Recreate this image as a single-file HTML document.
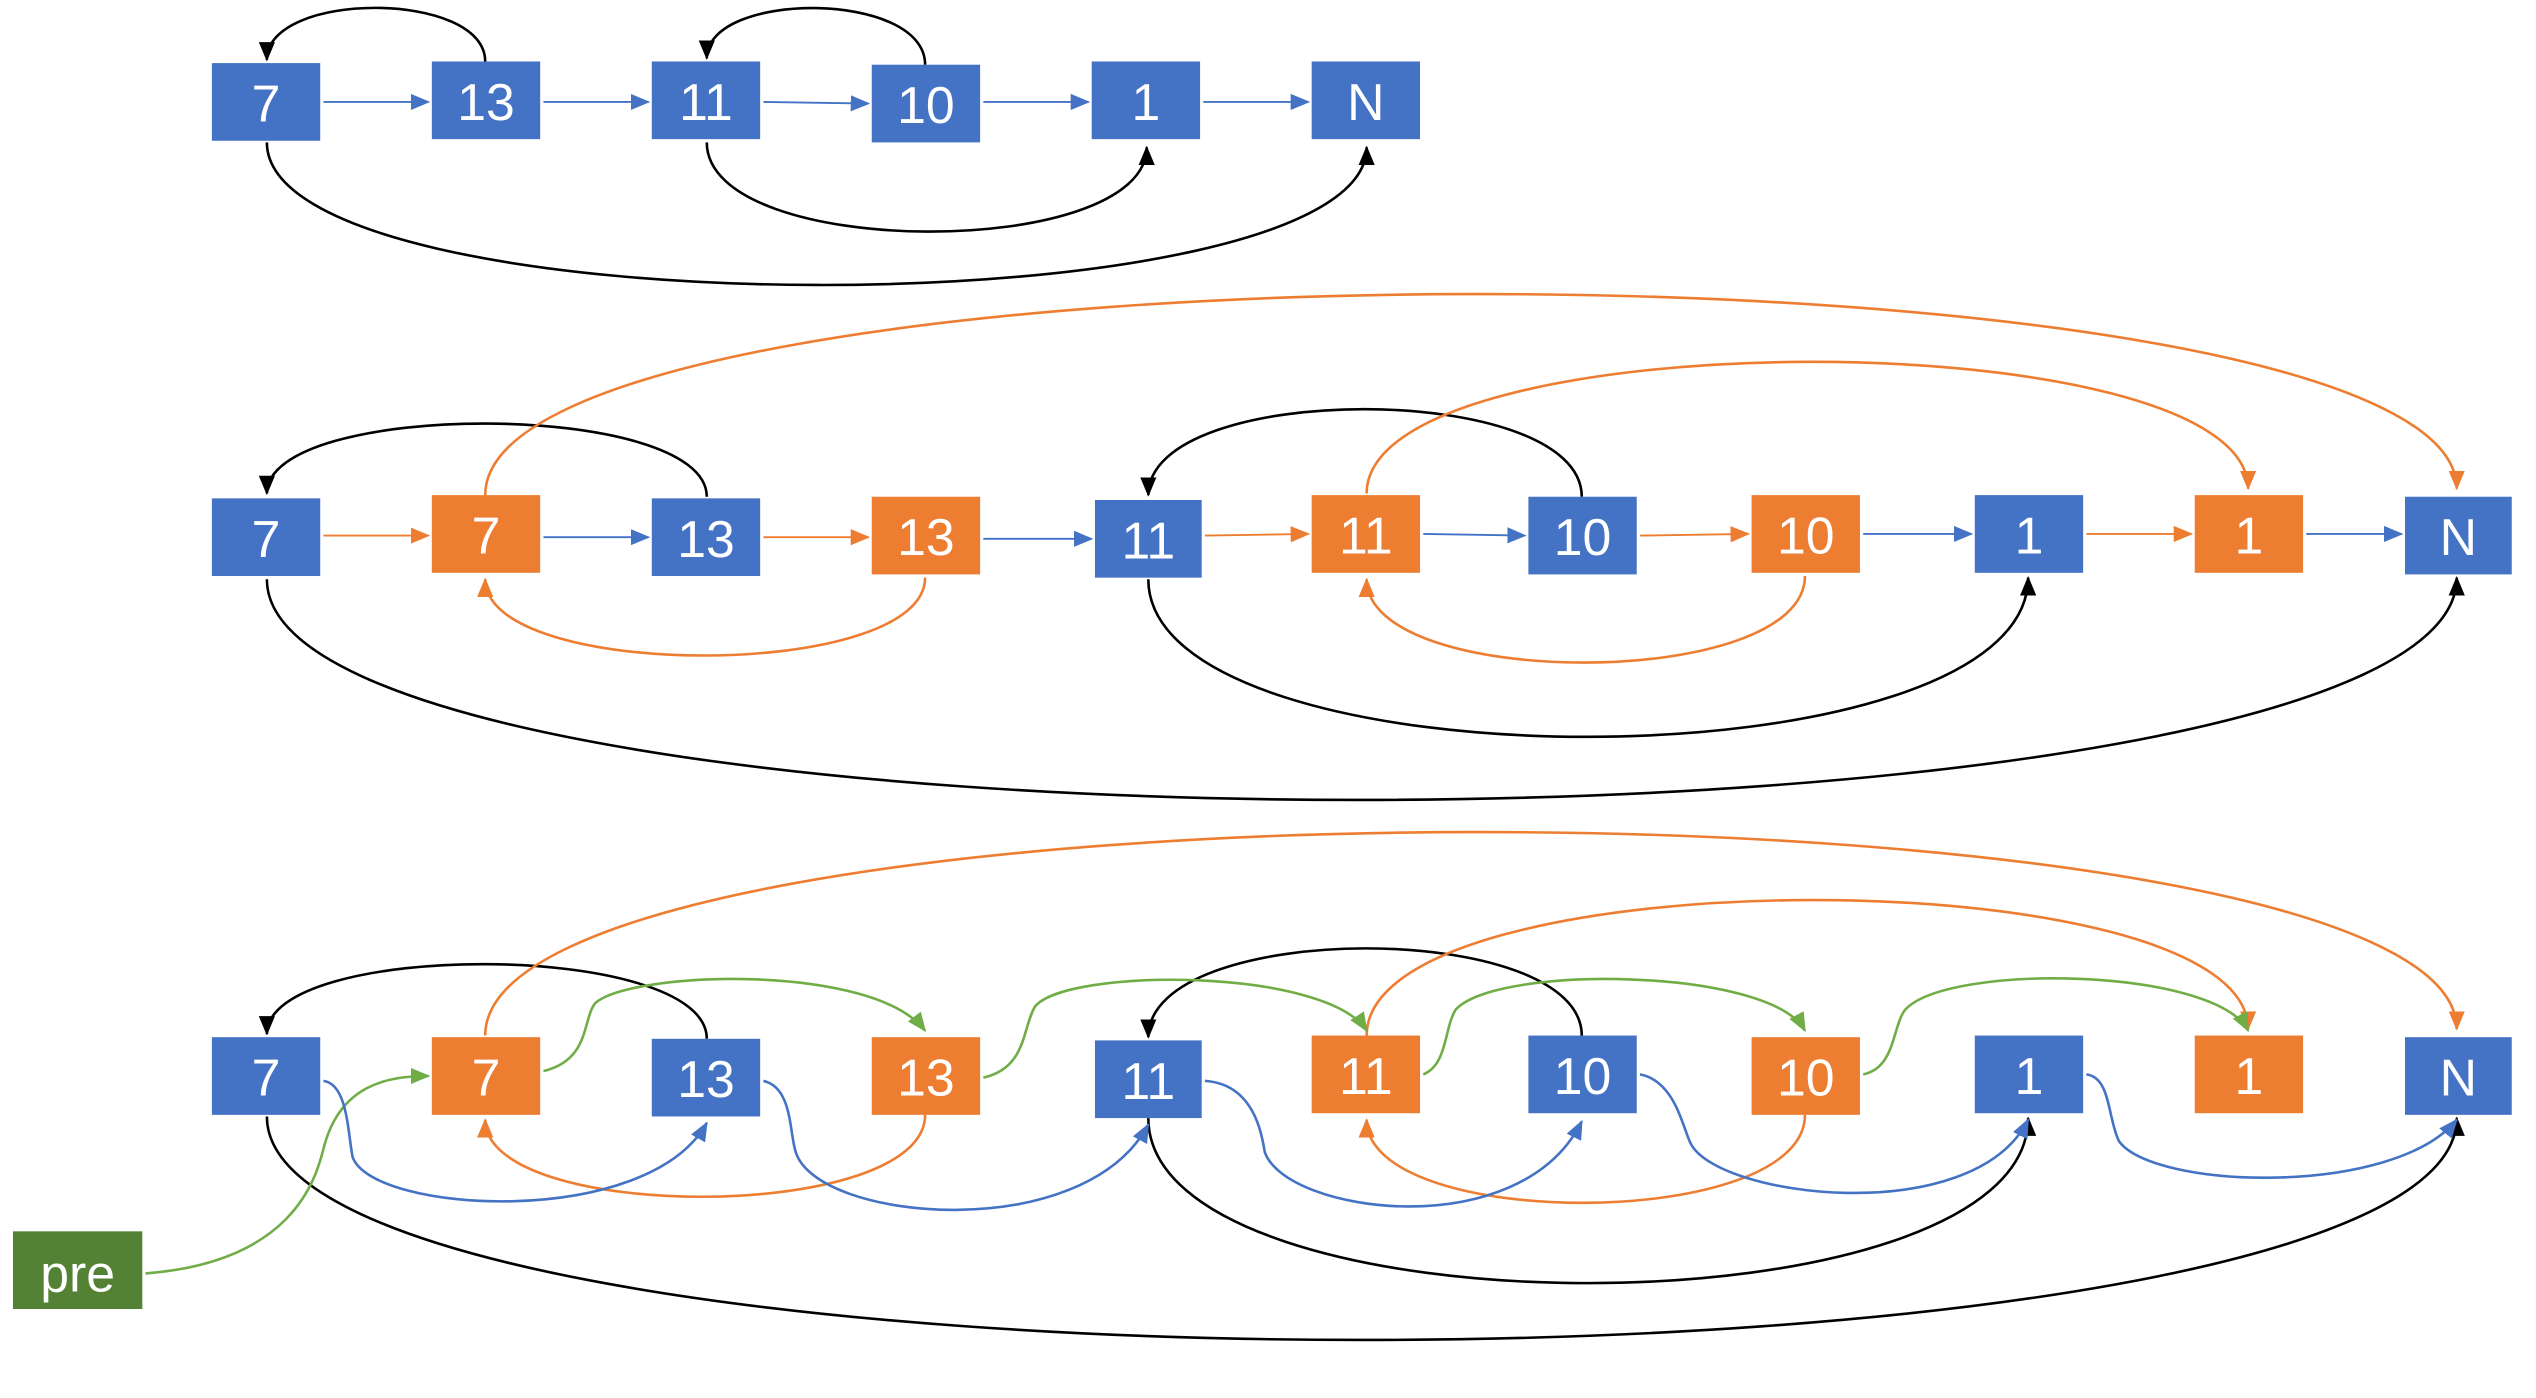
<!DOCTYPE html>
<html><head><meta charset="utf-8"><style>
html,body{margin:0;padding:0;background:#fff;}
svg{display:block;}
text{font-family:"Liberation Sans",sans-serif;font-size:32px;fill:#fff;text-anchor:middle;dominant-baseline:central;}
</style></head><body>
<svg width="2536" height="1398" viewBox="0 0 1568 864" preserveAspectRatio="none" xmlns="http://www.w3.org/2000/svg">
<defs>
<marker id="mk" markerUnits="userSpaceOnUse" markerWidth="12" markerHeight="10" refX="11" refY="5" orient="auto"><path d="M0,0 L12,5 L0,10 z" fill="#000"/></marker>
<marker id="mb" markerUnits="userSpaceOnUse" markerWidth="12" markerHeight="10" refX="11" refY="5" orient="auto"><path d="M0,0 L12,5 L0,10 z" fill="#4472C4"/></marker>
<marker id="mo" markerUnits="userSpaceOnUse" markerWidth="12" markerHeight="10" refX="11" refY="5" orient="auto"><path d="M0,0 L12,5 L0,10 z" fill="#ED7D31"/></marker>
<marker id="mg" markerUnits="userSpaceOnUse" markerWidth="12" markerHeight="10" refX="11" refY="5" orient="auto"><path d="M0,0 L12,5 L0,10 z" fill="#70AD47"/></marker>
</defs>
<g fill="none" stroke-width="1.6">
<g stroke="#4472C4" marker-end="url(#mb)" stroke-width="1.2">
<path d="M200 63 L265 63"/><path d="M336 63 L401 63"/><path d="M472 63 L537 64"/><path d="M608 63 L673 63"/><path d="M744 63 L809 63"/>
</g>
<g stroke="#000" marker-end="url(#mk)">
<path d="M300 38 C300 -6,165 -6,165 37"/>
<path d="M572 40 C572 -6,437 -6,437 36"/>
<path d="M437 88 C437 161,709 161,709 91"/>
<path d="M165 88 C165 205,845 205,845 91"/>
</g>
<g stroke-width="1.2">
<path d="M200 331 L265 331" stroke="#ED7D31" marker-end="url(#mo)"/>
<path d="M336 332 L401 332" stroke="#4472C4" marker-end="url(#mb)"/>
<path d="M472 332 L537 332" stroke="#ED7D31" marker-end="url(#mo)"/>
<path d="M608 333 L675 333" stroke="#4472C4" marker-end="url(#mb)"/>
<path d="M745 331 L809 330" stroke="#ED7D31" marker-end="url(#mo)"/>
<path d="M880 330 L943 331" stroke="#4472C4" marker-end="url(#mb)"/>
<path d="M1014 331 L1081 330" stroke="#ED7D31" marker-end="url(#mo)"/>
<path d="M1152 330 L1219 330" stroke="#4472C4" marker-end="url(#mb)"/>
<path d="M1290 330 L1355 330" stroke="#ED7D31" marker-end="url(#mo)"/>
<path d="M1426 330 L1485 330" stroke="#4472C4" marker-end="url(#mb)"/>
</g>
<g stroke="#000" marker-end="url(#mk)">
<path d="M437 307 C437 247,165 247,165 305"/>
<path d="M978 307 C978 235,710 235,710 306"/>
<path d="M710 358 C710 488,1254 488,1254 357"/>
<path d="M165 358 C165 540,1519 540,1519 357"/>
</g>
<g stroke="#ED7D31" marker-end="url(#mo)">
<path d="M300 306 C300 141,1519 141,1519 302"/>
<path d="M845 305 C845 197,1390 197,1390 302"/>
<path d="M572 357 C572 421,300 421,300 358"/>
<path d="M1116 356 C1116 427,845 427,845 358"/>
</g>
<g stroke="#000" marker-end="url(#mk)">
<path d="M437 642 C437 581,165 581,165 639"/>
<path d="M978 640 C978 568,710 568,710 641"/>
<path d="M710 691 C710 827,1254 827,1254 691"/>
<path d="M165 690 C165 874,1519 874,1519 691"/>
</g>
<g stroke="#ED7D31" marker-end="url(#mo)">
<path d="M300 640 C300 473,1519 473,1519 636"/>
<path d="M845 640 C845 529,1390 529,1390 636"/>
<path d="M572 689 C572 756,300 756,300 692"/>
<path d="M1116 689 C1116 761,845 761,845 692"/>
</g>
<g stroke="#70AD47" marker-end="url(#mg)">
<path d="M90 787 C180 780,195 730,200 710 C210 670,240 665,265 665"/>
<path d="M336 662 C365 655,360 630,368 620 C390 600,540 595,572 637"/>
<path d="M608 666 C635 660,632 635,640 622 C660 598,820 598,845 637"/>
<path d="M880 664 C895 658,893 635,900 624 C925 596,1095 598,1116 637"/>
<path d="M1152 664 C1172 660,1170 634,1178 624 C1205 595,1370 598,1390 637"/>
</g>
<g stroke="#4472C4" marker-end="url(#mb)">
<path d="M200 668 C215 670,215 700,218 715 C230 750,400 760,437 694"/>
<path d="M472 668 C490 672,488 700,492 712 C505 755,670 770,710 695"/>
<path d="M745 668 C775 670,780 700,782 712 C795 750,940 770,978 693"/>
<path d="M1014 664 C1035 668,1040 695,1045 706 C1060 740,1220 760,1254 692"/>
<path d="M1290 664 C1305 666,1303 690,1310 705 C1330 735,1480 740,1519 692"/>
</g>
</g>
<g>
<rect x="131" y="39" width="67" height="48" fill="#4472C4"/><text x="164.5" y="64">7</text>
<rect x="267" y="38" width="67" height="48" fill="#4472C4"/><text x="300.5" y="63">13</text>
<rect x="403" y="38" width="67" height="48" fill="#4472C4"/><text x="436.5" y="63">11</text>
<rect x="539" y="40" width="67" height="48" fill="#4472C4"/><text x="572.5" y="65">10</text>
<rect x="675" y="38" width="67" height="48" fill="#4472C4"/><text x="708.5" y="63">1</text>
<rect x="811" y="38" width="67" height="48" fill="#4472C4"/><text x="844.5" y="63">N</text>

<rect x="131" y="308" width="67" height="48" fill="#4472C4"/><text x="164.5" y="333">7</text>
<rect x="267" y="306" width="67" height="48" fill="#ED7D31"/><text x="300.5" y="331">7</text>
<rect x="403" y="308" width="67" height="48" fill="#4472C4"/><text x="436.5" y="333">13</text>
<rect x="539" y="307" width="67" height="48" fill="#ED7D31"/><text x="572.5" y="332">13</text>
<rect x="677" y="309" width="66" height="48" fill="#4472C4"/><text x="710" y="334">11</text>
<rect x="811" y="306" width="67" height="48" fill="#ED7D31"/><text x="844.5" y="331">11</text>
<rect x="945" y="307" width="67" height="48" fill="#4472C4"/><text x="978.5" y="332">10</text>
<rect x="1083" y="306" width="67" height="48" fill="#ED7D31"/><text x="1116.5" y="331">10</text>
<rect x="1221" y="306" width="67" height="48" fill="#4472C4"/><text x="1254.5" y="331">1</text>
<rect x="1357" y="306" width="67" height="48" fill="#ED7D31"/><text x="1390.5" y="331">1</text>
<rect x="1487" y="307" width="66" height="48" fill="#4472C4"/><text x="1520" y="332">N</text>

<rect x="131" y="641" width="67" height="48" fill="#4472C4"/><text x="164.5" y="666">7</text>
<rect x="267" y="641" width="67" height="48" fill="#ED7D31"/><text x="300.5" y="666">7</text>
<rect x="403" y="642" width="67" height="48" fill="#4472C4"/><text x="436.5" y="667">13</text>
<rect x="539" y="641" width="67" height="48" fill="#ED7D31"/><text x="572.5" y="666">13</text>
<rect x="677" y="643" width="66" height="48" fill="#4472C4"/><text x="710" y="668">11</text>
<rect x="811" y="640" width="67" height="48" fill="#ED7D31"/><text x="844.5" y="665">11</text>
<rect x="945" y="640" width="67" height="48" fill="#4472C4"/><text x="978.5" y="665">10</text>
<rect x="1083" y="641" width="67" height="48" fill="#ED7D31"/><text x="1116.5" y="666">10</text>
<rect x="1221" y="640" width="67" height="48" fill="#4472C4"/><text x="1254.5" y="665">1</text>
<rect x="1357" y="640" width="67" height="48" fill="#ED7D31"/><text x="1390.5" y="665">1</text>
<rect x="1487" y="641" width="66" height="48" fill="#4472C4"/><text x="1520" y="666">N</text>

<rect x="8" y="761" width="80" height="48" fill="#548235"/><text x="48" y="787">pre</text>
</g>
</svg>
</body></html>
